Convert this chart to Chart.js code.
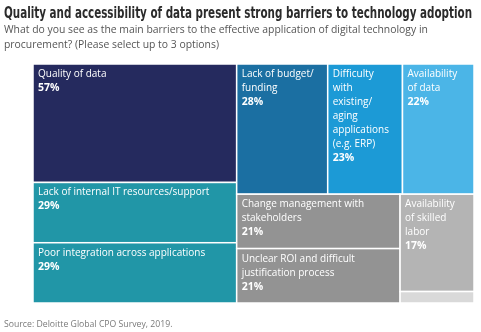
<!DOCTYPE html>
<html>
<head>
<meta charset="utf-8">
<script src="https://cdn.jsdelivr.net/npm/chart.js@4.4.0/dist/chart.umd.min.js"></script>
<style>
  html, body { margin: 0; padding: 0; background: #fff; }
</style>
</head>
<body>
<canvas id="barriersChart" width="481" height="332"></canvas>
<script>
'use strict';

const chartCanvas = document.getElementById('barriersChart');

const categories = [
  'Quality of data',
  'Lack of internal IT resources/support',
  'Poor integration across applications',
  'Lack of budget/ funding',
  'Difficulty with existing/ aging applications (e.g. ERP)',
  'Availability of data',
  'Change management with stakeholders',
  'Unclear ROI and difficult justification process',
  'Availability of skilled labor',
  'Other',
];
const shares = [57, 29, 29, 28, 23, 22, 21, 21, 17, 2];
const tileColors = [
  '#252a5e', '#2196a7', '#2196a7', '#1b6fa2', '#1c9ad6',
  '#4bb5e7', '#939393', '#939393', '#b4b4b4', '#d9d9d9',
];
const labelled = [true, true, true, true, true, true, true, true, true, false];

const titleText = 'Quality and accessibility of data present strong barriers to technology adoption';
const subtitleLines = [
  'What do you see as the main barriers to the effective application of digital technology in',
  'procurement? (Please select up to 3 options)',
];
const sourceText = 'Source: Deloitte Global CPO Survey, 2019.';

// how the tiles nest: 'h' puts children side by side, 'v' stacks them
const tileGroups = ['h', ['v', 0, 1, 2], ['v', ['h', 3, 4, 5], ['h', ['v', 6, 7], ['v', 8, 9]]]];

function sumOf(node) {
  if (typeof node === 'number') return shares[node];
  return node.slice(1).reduce((s, n) => s + sumOf(n), 0);
}

function layoutTiles(node, x0, y0, x1, y1, out) {
  if (typeof node === 'number') {
    out[node] = { x0, y0, x1, y1 };
    return out;
  }
  const dir = node[0];
  const total = sumOf(node);
  let pos = dir === 'h' ? x0 : y0;
  for (const child of node.slice(1)) {
    const span = (dir === 'h' ? x1 - x0 : y1 - y0) * sumOf(child) / total;
    if (dir === 'h') layoutTiles(child, pos, y0, pos + span, y1, out);
    else layoutTiles(child, x0, pos, x1, pos + span, out);
    pos += span;
  }
  return out;
}

const tiles = layoutTiles(tileGroups, 0, 0, 1, 1, []);

function wrapWords(ctx, text, maxWidth) {
  const words = text.split(' ');
  const lines = [];
  let line = '';
  for (const w of words) {
    const test = line ? line + ' ' + w : w;
    if (line && ctx.measureText(test).width > maxWidth) {
      lines.push(line);
      line = w;
    } else {
      line = test;
    }
  }
  if (line) lines.push(line);
  return lines;
}

const treemapTiles = {
  id: 'treemapTiles',
  afterDatasetsDraw(chart) {
    const { ctx, scales } = chart;
    ctx.save();
    tiles.forEach((t, i) => {
      const left = scales.x.getPixelForValue(t.x0);
      const right = scales.x.getPixelForValue(t.x1);
      const top = scales.y.getPixelForValue(t.y0);
      const bottom = scales.y.getPixelForValue(t.y1);
      ctx.fillStyle = tileColors[i];
      ctx.fillRect(left, top, right - left, bottom - top);
      ctx.strokeStyle = '#ffffff';
      ctx.lineWidth = 1.5;
      ctx.strokeRect(left, top, right - left, bottom - top);

      if (!labelled[i]) return;
      ctx.fillStyle = '#ffffff';
      ctx.textBaseline = 'alphabetic';
      ctx.textAlign = 'left';
      ctx.font = '10px "Open Sans"';
      const lines = wrapWords(ctx, categories[i], right - left - 15);
      let y = top + 13;
      for (const ln of lines) {
        ctx.fillText(ln, left + 5, y);
        y += 14;
      }
      ctx.font = 'bold 10.5px "Open Sans"';
      ctx.fillText(shares[i] + '%', left + 5, y);
    });
    ctx.restore();
  },
};

const headerText = {
  id: 'headerText',
  afterDraw(chart) {
    const { ctx } = chart;
    ctx.save();
    ctx.textBaseline = 'alphabetic';
    ctx.textAlign = 'left';

    // condensed headline, squeezed to the page width
    ctx.fillStyle = '#2b2b2b';
    ctx.font = 'bold 16px "Liberation Sans Narrow", "DejaVu Sans Condensed", sans-serif';
    const w = ctx.measureText(titleText).width;
    const sx = Math.min(1, 468 / w);
    ctx.translate(4, 18);
    ctx.scale(sx, 1);
    ctx.fillText(titleText, 0, 0);
    ctx.setTransform(1, 0, 0, 1, 0, 0);

    ctx.fillStyle = '#555555';
    ctx.font = '10.4px "Open Sans"';
    subtitleLines.forEach((ln, k) => ctx.fillText(ln, 4, 33 + k * 14.5));

    ctx.fillStyle = '#7a7a7a';
    ctx.font = '8.7px "Open Sans"';
    ctx.fillText(sourceText, 4, 327);
    ctx.restore();
  },
};

function createBarrierChart() {
  return new Chart(chartCanvas, {
    type: 'scatter',
    data: {
      labels: categories,
      datasets: [{ data: [], pointRadius: 0 }],
    },
    options: {
      responsive: false,
      animation: false,
      layout: {
        padding: { left: 33, right: 7, top: 64, bottom: 29 },
      },
      plugins: {
        legend: { display: false },
        tooltip: { enabled: false },
      },
      scales: {
        x: { type: 'linear', min: 0, max: 1, display: false },
        y: { type: 'linear', min: 0, max: 1, reverse: true, display: false },
      },
    },
    plugins: [treemapTiles, headerText],
  });
}

createBarrierChart();
</script>
</body>
</html>
